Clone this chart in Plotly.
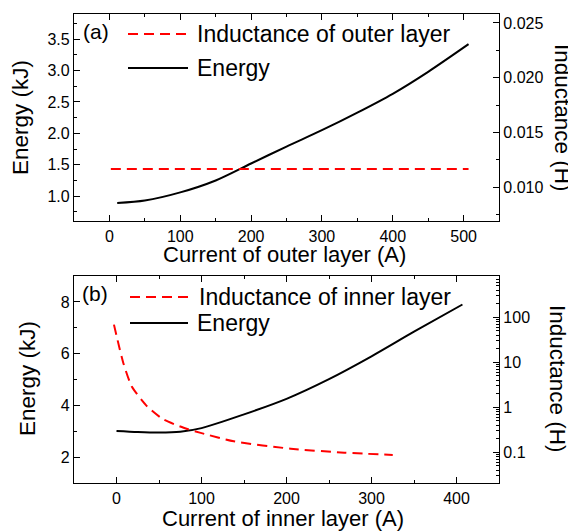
import plotly.graph_objects as go

# ---------------- data ----------------
# Panel (a): outer layer
outer_current_energy = [11, 50, 100, 150, 200, 250, 300, 350, 400, 450, 507]
outer_energy = [0.89, 0.93, 1.06, 1.25, 1.52, 1.79, 2.05, 2.33, 2.63, 2.98, 3.42]
outer_current_ind = [2, 507]
outer_inductance = [0.01165, 0.01165]

# Panel (b): inner layer
inner_current_energy = [0, 25, 50, 75, 100, 150, 200, 250, 300, 350, 407]
inner_energy = [3.02, 2.98, 2.96, 2.99, 3.13, 3.66, 4.26, 5.02, 5.90, 6.85, 7.90]
inner_current_ind = [-3, 8, 18, 36, 55, 79, 99, 138, 205, 268, 325]
inner_inductance = [69, 9.7, 2.9, 1.05, 0.54, 0.35, 0.27, 0.175, 0.12, 0.098, 0.087]

legend_a = ["Inductance of outer layer", "Energy"]
legend_b = ["Inductance of inner layer", "Energy"]

# page body has an 8px margin, so the figure is laid out in page pixels minus 8
OFF = 8
W, H = 576 - OFF, 531 - OFF
FONT = "Arial, Liberation Sans, sans-serif"
RED = "#ff0000"


def px(x):
    return (x - OFF) / W


def py(y):
    return 1 - (y - OFF) / H


fig = go.Figure()

dash_line = dict(color=RED, width=2, dash="10px,6px")
solid_line = dict(color="black", width=2)

fig.add_trace(go.Scatter(x=outer_current_ind, y=outer_inductance, xaxis="x", yaxis="y2",
                         mode="lines", line=dash_line, name=legend_a[0], showlegend=False))
fig.add_trace(go.Scatter(x=outer_current_energy, y=outer_energy, xaxis="x", yaxis="y",
                         mode="lines", line=dict(solid_line, shape="spline", smoothing=0.8),
                         name=legend_a[1], showlegend=False))
fig.add_trace(go.Scatter(x=inner_current_ind, y=inner_inductance, xaxis="x2", yaxis="y4",
                         mode="lines", line=dict(dash_line, shape="spline", smoothing=0.6),
                         name=legend_b[0], showlegend=False))
fig.add_trace(go.Scatter(x=inner_current_energy, y=inner_energy, xaxis="x2", yaxis="y3",
                         mode="lines", line=dict(solid_line, shape="spline", smoothing=0.8),
                         name=legend_b[1], showlegend=False))

minor = dict(ticks="inside", ticklen=3, tickwidth=1.2, tickcolor="black", showgrid=False)
base = dict(showline=True, linecolor="black", linewidth=1.3, ticks="inside", ticklen=6,
            tickwidth=1.2, tickcolor="black", showgrid=False, zeroline=False,
            tickfont=dict(family=FONT, size=16, color="black"))

xdom = [px(74), px(499)]
ydom_a = [py(221.3), py(14)]
ydom_b = [py(483.3), py(276)]

fig.update_layout(
    width=W, height=H,
    margin=dict(l=0, r=0, t=0, b=0),
    paper_bgcolor="white", plot_bgcolor="white",
    font=dict(family=FONT, color="black"),
    showlegend=False,
    xaxis=dict(base, domain=xdom, anchor="y", range=[-50, 550], dtick=100, tick0=0,
               mirror="ticks", minor=dict(minor, dtick=50)),
    yaxis=dict(base, domain=ydom_a, anchor="x", range=[0.6, 3.9], dtick=0.5, tick0=0,
               tickformat=".1f", minor=dict(minor, dtick=0.25)),
    yaxis2=dict(base, overlaying="y", side="right", anchor="x", range=[0.00687, 0.02582],
                dtick=0.005, tick0=0, tickformat=".3f", minor=dict(minor, dtick=0.0025)),
    xaxis2=dict(base, domain=xdom, anchor="y3", range=[-50, 450], dtick=100, tick0=0,
                mirror="ticks", minor=dict(minor, dtick=50)),
    yaxis3=dict(base, domain=ydom_b, anchor="x2", range=[1, 9], dtick=2, tick0=0,
                minor=dict(minor, dtick=1)),
    yaxis4=dict(base, overlaying="y3", side="right", anchor="x2", type="log",
                range=[-1.69, 2.92], dtick=1, minor=dict(minor, dtick="D1")),
)

TITLE = 22.5
ann = []


def text(t, x, y, size=TITLE, angle=0, xanchor="center"):
    ann.append(dict(text=t, x=px(x), y=py(y), xref="paper", yref="paper", showarrow=False,
                    xanchor=xanchor, yanchor="middle", textangle=angle,
                    font=dict(family=FONT, size=size, color="black")))


# axis titles
text("Current of outer layer (A)", 284, 254, size=22)
text("Energy (kJ)", 20, 118, angle=-90)
text("Inductance (H)", 563, 118, angle=90)
text("Current of inner layer (A)", 283, 518, size=22)
text("Energy (kJ)", 27, 379, angle=-90)
text("Inductance (H)", 558, 379, angle=90)

# panel labels
text("(a)", 96, 31, size=21)
text("(b)", 95, 293, size=21)

# legends (drawn manually to match long line samples)
shapes = []


def legend_item(label, y, line, x0=128, x1=188, tx=195):
    shapes.append(dict(type="line", xref="paper", yref="paper", x0=px(x0), x1=px(x1),
                       y0=py(y), y1=py(y), line=line))
    text(label, tx, y, size=23, xanchor="left")


legend_item(legend_a[0], 34, dash_line)
legend_item(legend_a[1], 68, solid_line)
legend_item(legend_b[0], 297, dash_line, x0=130, x1=190, tx=197)
legend_item(legend_b[1], 323, solid_line, x0=130, x1=188, tx=195)

fig.update_layout(annotations=ann, shapes=shapes)

fig.write_html("out.html")
